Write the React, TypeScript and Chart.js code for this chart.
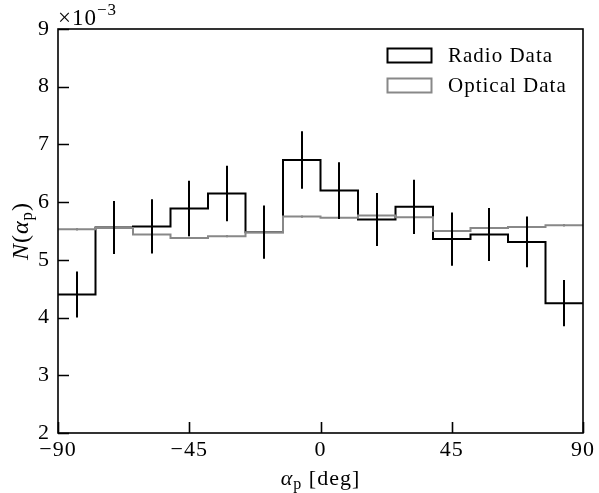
import React, { useEffect, useRef } from 'react';
import { Chart, registerables } from 'chart.js';

Chart.register(...registerables);

// ---- data (values in units of 1e-3) ----
const X_MIN = -90;
const X_MAX = 90;
const N_BINS = 14;
const xTicks = [-90, -45, 0, 45, 90];
const yTicks = [2, 3, 4, 5, 6, 7, 8, 9];

const radioValues = [4.40, 5.56, 5.58, 5.89, 6.15, 5.48, 6.73, 6.20, 5.70, 5.92, 5.36, 5.44, 5.31, 4.25];
const radioErrors = [0.40, 0.46, 0.47, 0.48, 0.48, 0.46, 0.50, 0.49, 0.46, 0.47, 0.46, 0.46, 0.44, 0.40];
const opticalValues = [5.53, 5.55, 5.44, 5.38, 5.41, 5.48, 5.75, 5.73, 5.77, 5.74, 5.50, 5.55, 5.57, 5.60];
const opticalErrors = [0.02, 0.02, 0.02, 0.02, 0.02, 0.02, 0.02, 0.02, 0.02, 0.02, 0.02, 0.02, 0.02, 0.02];

const binWidth = (X_MAX - X_MIN) / N_BINS;
const binEdges = Array.from({ length: N_BINS + 1 }, (_, i) => X_MIN + i * binWidth);
const binCenters = Array.from({ length: N_BINS }, (_, i) => X_MIN + (i + 0.5) * binWidth);

const stepPoints = (vals: number[]) => [
  ...vals.map((v, i) => ({ x: binEdges[i], y: v })),
  { x: binEdges[N_BINS], y: vals[vals.length - 1] },
];

const FONT = '"Liberation Serif", "Times New Roman", serif';
const RADIO_COLOR = '#000000';
const OPTICAL_COLOR = '#888888';
const SPACING = '1px';

const fmt = (v: number) => (v < 0 ? '\u2212' + Math.abs(v) : String(v));

type Run = { t: string; size: number; italic?: boolean; dy?: number };

function drawRuns(ctx: CanvasRenderingContext2D, runs: Run[], x: number, y: number, align: 'left' | 'center') {
  const setFont = (r: Run) => {
    ctx.font = `${r.italic ? 'italic ' : ''}${r.size}px ${FONT}`;
  };
  let total = 0;
  for (const r of runs) {
    setFont(r);
    total += ctx.measureText(r.t).width;
  }
  let cx = align === 'center' ? x - total / 2 : x;
  ctx.textAlign = 'left';
  ctx.textBaseline = 'alphabetic';
  for (const r of runs) {
    setFont(r);
    ctx.fillText(r.t, cx, y + (r.dy || 0));
    cx += ctx.measureText(r.t).width;
  }
}

const spacingPlugin = {
  id: 'spacing',
  beforeUpdate(chart: any) {
    (chart.ctx as any).letterSpacing = SPACING;
  },
  beforeDraw(chart: any) {
    (chart.ctx as any).letterSpacing = SPACING;
  },
};

const decorPlugin = {
  id: 'decor',
  afterDatasetsDraw(chart: any) {
    const { ctx, scales } = chart;
    const xs = scales.x;
    const ys = scales.y;
    ctx.save();
    const bars = (vals: number[], errs: number[], color: string) => {
      ctx.strokeStyle = color;
      ctx.lineWidth = 2;
      ctx.beginPath();
      vals.forEach((v, i) => {
        const px = Math.round(xs.getPixelForValue(binCenters[i]));
        ctx.moveTo(px, ys.getPixelForValue(v - errs[i]));
        ctx.lineTo(px, ys.getPixelForValue(v + errs[i]));
      });
      ctx.stroke();
    };
    bars(opticalValues, opticalErrors, OPTICAL_COLOR);
    bars(radioValues, radioErrors, RADIO_COLOR);
    ctx.restore();
  },
  afterDraw(chart: any) {
    const { ctx, chartArea, scales } = chart;
    const xs = scales.x;
    const ys = scales.y;
    const { left, right, top, bottom } = chartArea;
    ctx.save();
    ctx.letterSpacing = SPACING;
    // frame
    ctx.strokeStyle = '#000';
    ctx.lineWidth = 1.6;
    ctx.strokeRect(left, top, right - left, bottom - top);
    // ticks (inward, left and bottom)
    ctx.beginPath();
    yTicks.forEach((t) => {
      const py = Math.round(ys.getPixelForValue(t)) + 0.5;
      ctx.moveTo(left, py);
      ctx.lineTo(left + 11, py);
    });
    xTicks.forEach((t) => {
      const px = Math.round(xs.getPixelForValue(t)) + 0.5;
      ctx.moveTo(px, bottom);
      ctx.lineTo(px, bottom - 11);
    });
    ctx.stroke();

    ctx.fillStyle = '#000';
    // multiplier
    drawRuns(ctx, [{ t: '\u00d710', size: 23 }, { t: '\u22123', size: 17, dy: -10 }], left, top - 4, 'left');

    // x title
    drawRuns(
      ctx,
      [
        { t: '\u03b1', size: 22, italic: true },
        { t: 'p', size: 16, dy: 4 },
        { t: ' [deg]', size: 22 },
      ],
      (left + right) / 2,
      485,
      'center'
    );

    // y title
    ctx.save();
    ctx.translate(28, (top + bottom) / 2);
    ctx.rotate(-Math.PI / 2);
    drawRuns(
      ctx,
      [
        { t: 'N', size: 24, italic: true },
        { t: '(', size: 24 },
        { t: '\u03b1', size: 24, italic: true },
        { t: 'p', size: 17, dy: 4 },
        { t: ')', size: 24 },
      ],
      0,
      0,
      'center'
    );
    ctx.restore();

    // legend
    const items = [
      { label: 'Radio Data', color: RADIO_COLOR, y: 48 },
      { label: 'Optical Data', color: OPTICAL_COLOR, y: 78 },
    ];
    items.forEach((it) => {
      ctx.strokeStyle = it.color;
      ctx.lineWidth = 2;
      ctx.strokeRect(387.5, it.y + 0.5, 44, 14);
      ctx.fillStyle = '#000';
      ctx.font = `21px ${FONT}`;
      ctx.textAlign = 'left';
      ctx.textBaseline = 'middle';
      ctx.fillText(it.label, 448, it.y + 8);
    });
    ctx.restore();
  },
};

export default function App() {
  const ref = useRef<HTMLCanvasElement>(null);
  useEffect(() => {
    const chart = new Chart(ref.current as HTMLCanvasElement, {
      type: 'line',
      data: {
        datasets: [
          {
            label: 'Optical Data',
            data: stepPoints(opticalValues),
            borderColor: OPTICAL_COLOR,
            borderWidth: 2,
            pointRadius: 0,
            stepped: 'before',
            fill: false,
            order: 0,
          },
          {
            label: 'Radio Data',
            data: stepPoints(radioValues),
            borderColor: RADIO_COLOR,
            borderWidth: 2,
            pointRadius: 0,
            stepped: 'before',
            fill: false,
            order: 1,
          },
        ],
      },
      options: {
        animation: false,
        responsive: false,
        layout: { padding: { top: 29, right: 11, left: 0, bottom: 0 } },
        plugins: { legend: { display: false }, tooltip: { enabled: false } },
        scales: {
          x: {
            type: 'linear',
            min: X_MIN,
            max: X_MAX,
            afterBuildTicks: (s: any) => {
              s.ticks = xTicks.map((v) => ({ value: v }));
            },
            ticks: {
              callback: (v: any) => fmt(Number(v)),
              font: { family: FONT, size: 22 },
              color: '#000',
              padding: 4,
              maxRotation: 0,
              autoSkip: false,
            },
            grid: { display: false, drawTicks: false },
            border: { display: false },
            afterFit: (s: any) => {
              s.height = 60;
            },
          },
          y: {
            type: 'linear',
            min: 2,
            max: 9,
            afterBuildTicks: (s: any) => {
              s.ticks = yTicks.map((v) => ({ value: v }));
            },
            ticks: {
              callback: (v: any) => fmt(Number(v)),
              font: { family: FONT, size: 22 },
              color: '#000',
              padding: 8,
              autoSkip: false,
            },
            grid: { display: false, drawTicks: false },
            border: { display: false },
            afterFit: (s: any) => {
              s.width = 58;
            },
          },
        },
      },
      plugins: [spacingPlugin, decorPlugin],
    } as any);
    return () => chart.destroy();
  }, []);
  return (
    <div style={{ position: 'fixed', left: 0, top: 0, width: 599, height: 493, background: '#fff' }}>
      <canvas ref={ref} width={599} height={493} style={{ display: 'block' }} />
    </div>
  );
}
